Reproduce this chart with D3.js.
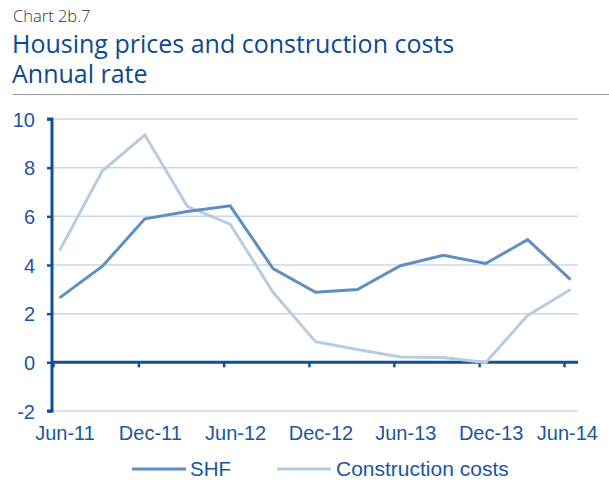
<!DOCTYPE html>
<html><head><meta charset="utf-8">
<script src="https://cdn.jsdelivr.net/npm/d3@7"></script>
<style>
html,body{margin:0;padding:0;background:#fff;}
svg{display:block;}
</style></head>
<body>
<svg id="chart" width="609" height="496"></svg>
<script>
const dates = ["2011-06","2011-09","2011-12","2012-03","2012-06","2012-09","2012-12","2013-03","2013-06","2013-09","2013-12","2014-03","2014-06"];
const shf = [2.65,3.95,5.9,6.2,6.43,3.85,2.88,2.99,3.97,4.4,4.06,5.04,3.4];
const constructionCosts = [4.59,7.87,9.34,6.41,5.68,2.88,0.85,0.53,0.22,0.2,-0.01,1.93,2.99];
const yTicks = [-2,0,2,4,6,8,10];
const xTickDates = ["2011-06","2011-12","2012-06","2012-12","2013-06","2013-12","2014-06"];
const seriesNames = ["SHF","Construction costs"];

const svg = d3.select("#chart");
const blue = "#0f4f9c";
const textBlue = "#1b56a0";
const shfColor = "#5f8ec1";
const ccColor = "#b6cce2";
const gridColor = "#c8d8ea";
const font = "'Liberation Sans', Arial, sans-serif";

// Header
svg.append("text").attr("x",13).attr("y",22).text("Chart 2b.7")
  .attr("font-family","'Open Sans', 'Noto Sans', sans-serif").attr("font-weight",300)
  .attr("font-size",16.5).attr("fill","#333");
svg.append("text").attr("x",12).attr("y",53).text("Housing prices and construction costs")
  .attr("font-family","'Open Sans', 'Noto Sans', sans-serif").attr("font-size",25).attr("fill","#0a4a93");
svg.append("text").attr("x",12).attr("y",83).text("Annual rate")
  .attr("font-family","'Open Sans', 'Noto Sans', sans-serif").attr("font-size",25).attr("fill","#0a4a93");
svg.append("line").attr("x1",13).attr("x2",609).attr("y1",94.5).attr("y2",94.5)
  .attr("stroke","#9a9a9a").attr("stroke-width",1.2);

const parse = d3.timeParse("%Y-%m-%d");
const dataDate = s => parse(s + "-15");
const tickDate = s => parse(s + "-01");

const x = d3.scaleTime()
  .domain([parse("2011-06-01"), parse("2014-07-01")])
  .range([53, 578]);
const y = d3.scaleLinear().domain([-2,10]).range([411,119]);

// gridlines
svg.append("g").selectAll("line").data(yTicks.filter(v=>v!==0)).join("line")
  .attr("x1",52).attr("x2",578)
  .attr("y1",d=>y(d)).attr("y2",d=>y(d))
  .attr("stroke",gridColor).attr("stroke-width",1.5);

// lines
const data = dates.map((d,i)=>({date:dataDate(d), shf:shf[i], cc:constructionCosts[i]}));
const lineCC = d3.line().x(d=>x(d.date)).y(d=>y(d.cc));
const lineSHF = d3.line().x(d=>x(d.date)).y(d=>y(d.shf));

// zero axis line
const xAxisG = svg.append("g").attr("transform",`translate(0,${y(0)})`)
  .call(d3.axisBottom(x).tickValues(xTickDates.map(tickDate)).tickSize(5).tickFormat(""));
xAxisG.select(".domain").attr("stroke",blue).attr("stroke-width",3).attr("d",`M52,0H578`);
xAxisG.selectAll(".tick line").attr("stroke",blue).attr("stroke-width",2.5);

svg.append("path").datum(data).attr("d",lineCC).attr("fill","none")
  .attr("stroke",ccColor).attr("stroke-width",3).attr("stroke-linejoin","miter");
svg.append("path").datum(data).attr("d",lineSHF).attr("fill","none")
  .attr("stroke",shfColor).attr("stroke-width",3).attr("stroke-linejoin","miter");

// y axis
const yAxisG = svg.append("g").attr("transform","translate(52,0)")
  .call(d3.axisLeft(y).tickValues(yTicks).tickSize(5).tickPadding(12).tickFormat(d => String(d)));
yAxisG.select(".domain").attr("stroke",blue).attr("stroke-width",3).attr("d",`M-5,${y(10)}H0V${y(-2)}H-5`);
yAxisG.selectAll(".tick line").attr("stroke",blue).attr("stroke-width",2.5);
yAxisG.selectAll(".tick text").attr("fill",textBlue).attr("font-family",font).attr("font-size",20).attr("dy","0.35em");

// x tick labels
const xl = svg.append("g");
xTickDates.forEach(s=>{
  const t = xl.append("text").attr("x",x(tickDate(s))+12).attr("y",440)
    .attr("text-anchor","middle").attr("font-family",font).attr("font-size",20).attr("fill",textBlue)
    .text(d3.timeFormat("%b-%y")(tickDate(s)));
  const bb = t.node().getBBox();
  if (bb.x + bb.width > 598) t.attr("x", +t.attr("x") - (bb.x + bb.width - 598));
});

// legend
const leg = svg.append("g");
leg.append("line").attr("x1",132).attr("x2",186).attr("y1",469).attr("y2",469).attr("stroke",shfColor).attr("stroke-width",3);
leg.append("text").attr("x",190).attr("y",476).text(seriesNames[0]).attr("font-family",font).attr("font-size",20.5).attr("fill",textBlue);
leg.append("line").attr("x1",277).attr("x2",331).attr("y1",469).attr("y2",469).attr("stroke",ccColor).attr("stroke-width",3);
leg.append("text").attr("x",336).attr("y",476).text(seriesNames[1]).attr("font-family",font).attr("font-size",21).attr("fill",textBlue);
</script>
</body></html>
